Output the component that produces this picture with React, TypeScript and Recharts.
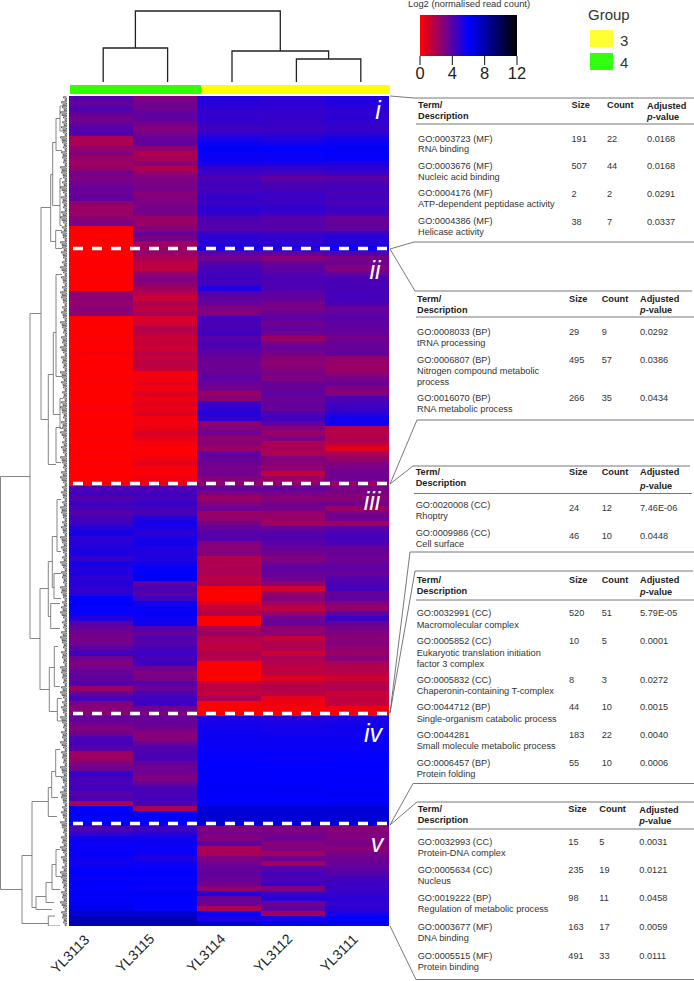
import React from 'react'
import { Area, AreaChart, Bar, BarChart, Cell, Line, LineChart, ReferenceLine, XAxis, YAxis } from 'recharts'

const samples = ['YL3113', 'YL3115', 'YL3114', 'YL3112', 'YL3111']
const groupSizes = [131, 189]
const groupColors = ['#33ff00', '#ffff00']
const scaleTicks = [0, 4, 8, 12]

// log2 values per sample, top row to bottom row (five blocks i-v)
const yl3113 = [
  4.0,3.6,4.1,3.7,3.3,3.6,4.0,4.1,2.0,1.9,2.6,2.9,2.5,2.2,2.6,3.3,3.1,3.4,3.6,3.5,3.7,2.6,2.4,2.3,2.8,3.1,0,0,0,0,0,
  0,0,0.1,0,0,0.1,0,0,2.6,2.7,2.5,2.8,2.6,0,0.1,0,0,0.1,0,0,0.2,0,0.1,0,0,0.1,0,0,0.1,0,0,0.2,0,0,0.1,0,0,0.1,0,0,0.2,0,0.1,0,0,0.1,0.2,
  4.2,4.5,4.1,4.6,4.3,4,4.4,4.6,5.2,5.6,5,5.1,5.2,5.4,4.8,5.5,5.2,5.3,5,5.1,4.9,5,6,6.2,5.9,5.8,5.2,4,3.6,3.3,3.2,3.4,3.9,4.6,3.4,2.9,3.4,3.6,3.8,4,2.4,3.6,4.3,3,2.8,2.8,
  3.6,3.4,3,3.3,4.2,4.4,3.9,2.3,2.4,3,3.4,4.8,4.4,4.2,4.5,3.9,4.2,2,6,6.2,6.1,6,
  4.2,4.8,5.6,5.8,5.8,5.9,5.7,5.6,5.9,6,5.8,6,5.9,6.2,6.1,6.3,6.5,7,7.6,8,
]
const yl3115 = [
  3,3.4,3.4,3.8,3.7,3.3,3,3.2,3.6,3.7,2.6,1.9,2.1,2.8,1.9,2.6,3,3.1,3.2,2.8,3,3.1,3.2,3.2,2.4,2.5,2.8,3.6,3.2,2.2,2.4,
  2.4,2,1.6,1.5,2.5,3,2.8,2.2,1.7,1.3,1.9,1.5,2,1,1,1.8,1.6,1.3,1.4,1.2,1.6,1.4,1.6,1.4,0.2,0.3,0.7,0.3,0.9,0.4,0.8,0.5,0.9,0.3,0.3,0.5,0.9,0.6,0.2,0.1,0.1,0.3,0.7,0.2,0.1,0.4,0.6,
  4.2,4.5,4.4,4.7,4.4,4.3,5.2,5.6,5.3,5,5.4,5.6,5.3,5.2,5.3,5.5,5.9,6.2,6.2,3.8,4.2,4,4.5,5.6,5.8,5.9,5.7,5.6,4,3.7,4.1,3.9,4.4,4.6,4.4,4.6,3.4,3,3.2,3.9,3.6,4.2,4.5,4.6,3.4,3,
  3.6,3.6,3.3,2.8,2.8,3.6,4.1,4.2,4.2,3.6,3.4,3.4,3,3.6,4.3,4.2,4.4,4.2,2,6,6.1,6,
  4.6,5,5.6,5.8,5.8,5.7,5.3,5.8,5.9,6,5.9,6,5.8,6.2,6,6,5.9,7,7.6,8,
]
const yl3114 = [
  5.2,5.1,4.9,4.8,4.9,4.7,4.5,4.8,5.4,5.8,6.2,5.8,5.7,5.5,4.8,4.6,4.2,4.5,4.4,4.6,4.7,4.6,5,4.8,4.2,4.1,4,4.7,5,5.1,5.3,
  3.8,3.4,4,4.3,4.4,4.5,4.4,5.3,4,3.8,3.6,3,3,4.4,4.2,4.3,4.5,4,4.3,4,3.8,3.6,3.4,3.5,3.6,3.8,3.5,3.3,2.4,2.8,4.6,4.9,5.1,4.9,2.6,3,3.4,2.6,2.9,2.4,3.8,3.6,3.4,3.2,3.4,2.9,2.6,
  3.6,3,2.4,3,3.4,2.4,2.6,3.2,3.7,4,4,3,2.8,3,1.8,2,1.9,2,1.7,1.8,0,0,0,0.8,1.4,1.8,0,0,2,2.4,1.8,1.6,1.5,1.9,1.7,0,0.1,0,0,1.4,1.6,1.3,2,0,0,0,
  5.4,5.5,5.6,5.7,5.7,5.8,5.8,5.9,5.9,6,6,6.1,6,6.1,6.2,6.1,6,6.1,6.9,7,7,7.1,
  3,3.2,3,3.8,2,2.1,3,3.4,3.6,3.8,3.6,3.4,2.6,5.2,3.6,3.4,2,5.8,5.4,7,
]
const yl3112 = [
  5,5,4.9,4.8,4.7,4.7,4.6,4.8,5.2,5.6,6,5.8,5.8,5.4,4.8,4.4,3.8,4.2,4.3,4.6,4.6,4.6,4.9,4.6,4,4,4,4.6,4.9,5,5.2,
  3.6,2.8,3.6,3.8,4,4.2,4.2,4.1,3.8,3.7,3.2,3.2,3.6,3.8,3.3,3.7,3.4,2.4,3.2,3.5,3.2,2.8,2.6,2.9,3.2,3,3.6,3.6,3.8,3.5,3.7,3.6,4.2,4.4,3.8,2.8,2.4,3,1.9,2.1,1.9,2.9,2.8,2.6,1.4,2.4,2.6,
  3.6,3.2,2.8,3.3,3.2,2.5,2.4,2.2,3.6,4,4.1,3.9,3.6,3.3,3,3.4,3.8,3.6,3.4,2.6,1,2.4,2.8,2.2,1.6,2.4,3.4,3.6,2.6,2.7,1.4,2,1.8,1.2,2,1.7,1.5,1.6,0.8,1.6,1.8,1.5,0.6,0.3,0.2,0.1,
  5.2,5.4,5.5,5.6,5.7,5.8,5.8,5.9,5.8,6,6,6,6,6.1,6.2,6.1,6,6.1,6.9,7,7,7.1,
  3,3.2,3.4,2.8,3,2.2,3.4,2.2,4,4.4,4.2,4.6,3,4.6,5,3.4,3.8,2.2,5.4,6.4,
]
const yl3111 = [
  5.2,5.3,5,4.9,5,4.8,4.7,5,5.5,5.8,6.2,5.9,5.9,5.2,5,4.5,3.9,4.3,4.4,4.3,4.4,4.2,4.6,4.4,3.6,3.7,3.7,4.8,5.1,5.3,5.6,
  4,3.2,3.4,3,3.6,4.2,4.3,4.3,4.4,4.4,4.2,3.6,3.8,3.9,3.8,3.7,3.6,3.3,3.6,3.6,3.7,2.6,2.4,2.4,2.6,3.2,3.6,3,2.8,4.2,4.4,4.6,5.1,5.6,5.6,1.8,1.7,1.9,1.5,0.7,2,2.4,3,3.2,3.4,3.4,2.2,
  3.2,3,2.8,3.4,2.4,3.2,3.4,2.2,4,4.2,4.4,4.2,3.6,3.5,3.4,3.6,3.8,3.6,4,4.2,4.4,3.6,3.8,2.8,2.6,3.8,4.6,3.6,3.2,3,2.8,3,2.6,2.4,2.8,2,1.8,1.6,1.2,1.8,1.8,1.2,1.5,1.4,0.4,0.2,
  5.4,5.5,5.6,5.6,5.7,5.8,5.8,5.9,5.9,6,6,6,6.1,6,6.1,6.2,6.1,6.2,6.9,7,7,7.1,
  2.8,3,3,3.2,2.8,3.2,3.4,3.6,3.8,4,4.4,4.6,4.6,4.8,5,4.8,5,5.4,6,6.2,
]
const sampleValues = [yl3113, yl3115, yl3114, yl3112, yl3111]
const blockEnds = [30, 77, 123, 145]

// sample dendrogram: [left, right, height, left child height, right child height]
const sampleMerges = [
  [0.5, 1.5, 34, 0, 0],
  [3.5, 4.5, 23, 0, 0],
  [2.5, 4, 31, 0, 23],
  [1, 3.25, 71, 34, 31],
]

// row dendrogram: [distance, top row, bottom row, top child distance, bottom child distance]
const rowMerges = [
  [0.5, 75.6, 158.2, 30, 22], [30, 43, 108, 41, 40], [41, 21.8, 64.2, 50.7, 48.3],
  [50.7, 15.2, 28.6, 52.7, 55.7], [52.7, 8.8, 21.4, 56, 60], [56, 4, 10.4, 60, 62],
  [60, 1.5, 6.5, 63, 63], [60, 16, 25.4, 62, 62], [55.7, 26.4, 30, 62, 62],
  [56, 35.2, 55.6, 62, 62], [48.3, 55.2, 73.2, 53.3, 56], [53.3, 46.8, 63.2, 56, 60],
  [56, 65.8, 72.8, 61, 61], [60, 60, 66, 63, 63], [40, 98, 118.2, 48.3, 49.3],
  [48.3, 92.6, 103.6, 52.3, 50.7], [52.3, 87.6, 97.8, 57, 54], [57, 80.2, 90.6, 61, 61],
  [54, 95, 100, 61, 61], [50.7, 101, 106, 60, 60], [49.3, 113.8, 122.6, 54.3, 57.3],
  [54.3, 109.6, 117.6, 58, 60], [57.3, 120, 124.5, 62, 62], [22, 151.4, 165, 32, 48.3],
  [32, 140.6, 161.8, 48.3, 36], [48.3, 137.8, 143.6, 51.7, 57], [51.7, 134.6, 139.8, 55.7, 58],
  [55.7, 130.2, 135.6, 60, 61], [36, 159.6, 162.2, 46, 52], [46, 156.8, 160.8, 52, 54],
  [52, 153.2, 158.2, 56, 60], [56, 150.2, 155.6, 60, 61], [48.3, 163.5, 165.5, 55, 60],
]
const leafDepth = [
  3,5,4,6,3,4,5,3,6,4,3,5,4,3,6,5,3,4,6,3,5,4,3,5,6,3,4,5,3,6,4,5,3,4,6,3,5,3,4,6,
  5,3,4,5,3,6,4,3,5,4,6,3,5,4,3,6,4,5,3,4,3,5,6,4,3,5,4,6,3,4,5,3,6,4,3,5,6,3,4,5,
  3,4,6,5,3,4,5,3,6,4,5,3,4,6,3,5,4,3,6,5,3,4,5,6,3,4,3,5,6,4,3,5,4,3,6,5,4,3,5,6,
  3,4,5,3,6,4,3,5,4,6,3,5,4,3,6,4,5,3,4,6,5,3,4,5,3,6,4,3,5,4,6,3,5,3,4,6,5,4,3,5,
  4,6,3,5,4,3,
]

const mfTerms = [
  ['GO:0003723 (MF)', ['RNA binding'], '191', '22', '0.0168'],
  ['GO:0003676 (MF)', ['Nucleic acid binding'], '507', '44', '0.0168'],
  ['GO:0004176 (MF)', ['ATP-dependent peptidase activity'], '2', '2', '0.0291'],
  ['GO:0004386 (MF)', ['Helicase activity'], '38', '7', '0.0337'],
]
const bpTerms = [
  ['GO:0008033 (BP)', ['tRNA processing'], '29', '9', '0.0292'],
  ['GO:0006807 (BP)', ['Nitrogen compound metabolic', 'process'], '495', '57', '0.0386'],
  ['GO:0016070 (BP)', ['RNA metabolic process'], '266', '35', '0.0434'],
]
const ccTerms = [
  ['GO:0020008 (CC)', ['Rhoptry'], '24', '12', '7.46E-06'],
  ['GO:0009986 (CC)', ['Cell surface'], '46', '10', '0.0448'],
]
const mixedTerms = [
  ['GO:0032991 (CC)', ['Macromolecular complex'], '520', '51', '5.79E-05'],
  ['GO:0005852 (CC)', ['Eukaryotic translation initiation', 'factor 3 complex'], '10', '5', '0.0001'],
  ['GO:0005832 (CC)', ['Chaperonin-containing T-complex'], '8', '3', '0.0272'],
  ['GO:0044712 (BP)', ['Single-organism catabolic process'], '44', '10', '0.0015'],
  ['GO:0044281', ['Small molecule metabolic process'], '183', '22', '0.0040'],
  ['GO:0006457 (BP)', ['Protein folding'], '55', '10', '0.0006'],
]
const dnaTerms = [
  ['GO:0032993 (CC)', ['Protein-DNA complex'], '15', '5', '0.0031'],
  ['GO:0005634 (CC)', ['Nucleus'], '235', '19', '0.0121'],
  ['GO:0019222 (BP)', ['Regulation of metabolic process'], '98', '11', '0.0458'],
  ['GO:0003677 (MF)', ['DNA binding'], '163', '17', '0.0059'],
  ['GO:0005515 (MF)', ['Protein binding'], '491', '33', '0.0111'],
]

const FONT = '"Liberation Sans", Arial, sans-serif'

// page layout, in pixels
const tableLayouts = [
  { terms: mfTerms, cols: [418, 571.5, 607, 647], head: 106, head2: 116.5, p: 118, first: [139.5, 166.8, 194.4, 222.3], line: 10.8, dy: 0.4 },
  { terms: bpTerms, cols: [417, 569, 601.7, 640], head: 299.5, head2: 310.7, p: 311.3, first: [333, 361, 399.3], line: 11, dy: 0 },
  { terms: ccTerms, cols: [415.7, 569, 601.7, 640], head: 472.7, head2: 484, p: 487, first: [506.3, 534], line: 11, dy: 2.5 },
  { terms: mixedTerms, cols: [416.7, 569, 601.7, 640], head: 580.7, head2: 591.7, p: 593, first: [614.3, 642.3, 680.7, 708.3, 736, 764], line: 11.2, dy: 0 },
  { terms: dnaTerms, cols: [417.7, 568.3, 599.3, 639.3], head: 810, head2: 820.7, p: 822.3, first: [843.3, 871.3, 899.3, 928.3, 956.7], line: 11, dy: 0 },
]
const ruleSegments = [
  [414, 98, 694, 98], [416, 124, 694, 124], [414, 242, 694, 242],
  [415, 291, 692, 291], [416, 317, 694, 317], [417, 420, 694, 420],
  [413, 466, 690, 466], [414, 493.5, 692, 493.5], [410, 552, 694, 552],
  [415, 571, 693, 571], [416, 600, 694, 600], [413, 783.5, 694, 783.5],
  [417, 802, 694, 802], [417, 829, 694, 829], [416, 979.5, 694, 979.5],
]
const leaderSegments = [
  [390, 96, 414, 98], [390, 249, 414, 242], [390, 249, 415, 291], [390, 484, 417, 420],
  [390, 484, 413, 466], [390, 713, 410, 552], [390, 713, 415, 571], [390, 825, 413, 783.5],
  [390, 825, 417, 802], [390, 926, 416, 979.5],
]
const blockLabels = [
  ['i', 378, 110], ['ii', 375, 270], ['iii', 372, 501], ['iv', 373, 733], ['v', 377, 843],
]
const sampleLabelCentres = [[70, 954], [135, 953], [206, 953], [272.5, 953], [339, 953]]

const valueColor = (v: number) => {
  const c = (n: number) => Math.round(n)
  if (v <= 6) return `rgb(${c(255 * (1 - v / 6))},0,${c((255 * v) / 6)})`
  return `rgb(0,0,${c((255 * (12 - v)) / 6)})`
}

const heatRows = yl3113.map((_, row) => ({ row, unit0: 1, unit1: 1, unit2: 1, unit3: 1, unit4: 1 }))

const mergePoints = (merges: number[][]) =>
  merges.flatMap(([d, a, b, da, db]) => [
    { x: da, y: a }, { x: d, y: a }, { x: d, y: b }, { x: db, y: b }, { x: db, y: null },
  ])
const sampleTree = sampleMerges.flatMap(([l, r, h, hl, hr]) => [
  { x: l, y: hl }, { x: l, y: h }, { x: r, y: h }, { x: r, y: hr }, { x: r, y: null },
])
// two brackets per row, the second one a little shallower, so the leaves read as a dense dark band
const leafComb = leafDepth.flatMap((depth, row) => [
  { x: 66.5, y: row - 0.35 }, { x: 66.5 - depth, y: row - 0.35 }, { x: 66.5 - depth, y: row - 0.1 }, { x: 66.5, y: row - 0.1 },
  { x: 66.5, y: row + 0.15 }, { x: 68 - depth, y: row + 0.15 }, { x: 68 - depth, y: row + 0.4 }, { x: 66.5, y: row + 0.4 },
])
const segmentPoints = (segments: number[][]) =>
  segments.flatMap(([x1, y1, x2, y2]) => [{ x: x1, y: y1 }, { x: x2, y: y2 }, { x: x2, y: null }])

const box = (left: number, top: number): React.CSSProperties => ({ position: 'absolute', left, top })

function Txt({ x, y, children, bold, size = 9.2 }: any) {
  return (
    <div
      style={{
        position: 'absolute', left: x, top: y, transform: 'translateY(-50%)', whiteSpace: 'nowrap',
        fontFamily: FONT, fontSize: size, fontWeight: bold ? 700 : 400, color: bold ? '#222' : '#333', lineHeight: 1,
      }}
    >
      {children}
    </div>
  )
}

function TermTable({ t }: { t: (typeof tableLayouts)[number] }) {
  const [cTerm, cSize, cCount, cP] = t.cols
  return (
    <>
      <Txt x={cTerm} y={t.head} bold>Term/</Txt>
      <Txt x={cTerm} y={t.head2} bold>Description</Txt>
      <Txt x={cSize} y={t.head} bold>Size</Txt>
      <Txt x={cCount} y={t.head} bold>Count</Txt>
      <Txt x={cP} y={t.head + 0.5} bold>Adjusted</Txt>
      <Txt x={cP} y={t.p} bold><i>p</i>-value</Txt>
      {t.terms.map((row: any, i: number) => (
        <React.Fragment key={row[0]}>
          <Txt x={cTerm} y={t.first[i]}>{row[0]}</Txt>
          {row[1].map((d: string, j: number) => (
            <Txt key={d} x={cTerm} y={t.first[i] + t.line * (j + 1)}>{d}</Txt>
          ))}
          <Txt x={cSize} y={t.first[i] + t.dy}>{row[2]}</Txt>
          <Txt x={cCount} y={t.first[i] + t.dy}>{row[3]}</Txt>
          <Txt x={cP} y={t.first[i] + t.dy}>{row[4]}</Txt>
        </React.Fragment>
      ))}
    </>
  )
}

export default function App() {
  return (
    <div style={{ position: 'absolute', left: 0, top: 0, width: 694, height: 981, overflow: 'hidden', background: '#fff' }}>
      {/* callouts and table rules */}
      <div style={box(0, 0)}>
        <LineChart width={694} height={981} margin={{ top: 0, right: 0, bottom: 0, left: 0 }}>
          <XAxis type="number" dataKey="x" domain={[0, 694]} hide />
          <YAxis type="number" domain={[0, 981]} reversed hide />
          <Line data={segmentPoints(ruleSegments)} dataKey="y" stroke="#777" strokeWidth={1} dot={false} activeDot={false} isAnimationActive={false} />
          <Line data={segmentPoints(leaderSegments)} dataKey="y" stroke="#555" strokeWidth={0.8} dot={false} activeDot={false} isAnimationActive={false} />
        </LineChart>
      </div>

      {/* sample dendrogram */}
      <div style={box(71, 6)}>
        <LineChart width={322} height={81} margin={{ top: 5, right: 0, bottom: 5, left: 0 }}>
          <XAxis type="number" dataKey="x" domain={[0, 5]} hide />
          <YAxis type="number" domain={[0, 71]} hide />
          <Line data={sampleTree} dataKey="y" stroke="#222" strokeWidth={1.3} dot={false} activeDot={false} isAnimationActive={false} />
        </LineChart>
      </div>

      {/* group bar */}
      <div style={box(70, 85)}>
        <BarChart width={320} height={9} layout="vertical" data={[{ g: 'group', green: groupSizes[0], yellow: groupSizes[1] }]} margin={{ top: 0, right: 0, bottom: 0, left: 0 }} barCategoryGap={0}>
          <XAxis type="number" domain={[0, 320]} hide />
          <YAxis type="category" dataKey="g" hide />
          <Bar dataKey="green" stackId="g" fill={groupColors[0]} isAnimationActive={false} />
          <Bar dataKey="yellow" stackId="g" fill={groupColors[1]} isAnimationActive={false} />
        </BarChart>
      </div>

      {/* row dendrogram */}
      <div style={box(0, 96)}>
        <LineChart width={67} height={830} margin={{ top: 0, right: 0, bottom: 0, left: 0 }}>
          <XAxis type="number" dataKey="x" domain={[0, 67]} hide />
          <YAxis type="number" domain={[-0.5, 165.5]} reversed hide />
          <Line data={mergePoints(rowMerges)} dataKey="y" stroke="#777" strokeWidth={0.9} dot={false} activeDot={false} isAnimationActive={false} />
          <Line data={leafComb} dataKey="y" stroke="#333" strokeWidth={0.7} dot={false} activeDot={false} isAnimationActive={false} />
        </LineChart>
      </div>

      {/* heatmap */}
      <div style={box(69, 96)}>
        <BarChart width={320} height={830} layout="vertical" data={heatRows} margin={{ top: 0, right: 0, bottom: 0, left: 0 }} barCategoryGap={0} barGap={0}>
          <XAxis type="number" domain={[0, 5]} hide />
          <YAxis type="category" dataKey="row" hide />
          {sampleValues.map((values, col) => (
            <Bar key={samples[col]} dataKey={`unit${col}`} stackId="heat" isAnimationActive={false}>
              {values.map((v, row) => (
                <Cell key={row} fill={valueColor(v)} />
              ))}
            </Bar>
          ))}
          {blockEnds.map((row) => (
            <ReferenceLine key={row} y={row} stroke="#fff" strokeWidth={3.5} strokeDasharray="10 9" strokeDashoffset={-4} />
          ))}
        </BarChart>
      </div>

      {blockLabels.map(([label, x, y]) => (
        <div
          key={label as string}
          style={{
            position: 'absolute', left: x as number, top: y as number, transform: 'translate(-50%,-50%)',
            fontFamily: FONT, fontStyle: 'italic', fontSize: 25, color: '#fff', lineHeight: 1,
          }}
        >
          {label}
        </div>
      ))}

      {samples.map((name, i) => (
        <div
          key={name}
          style={{
            position: 'absolute', left: sampleLabelCentres[i][0], top: sampleLabelCentres[i][1],
            transform: 'translate(-50%,-50%) rotate(-45deg)', fontFamily: FONT, fontSize: 14, color: '#222', lineHeight: 1, whiteSpace: 'nowrap',
          }}
        >
          {name}
        </div>
      ))}

      {/* colour scale */}
      <Txt x={408} y={5.3} size={9.35}>Log2 (normalised read count)</Txt>
      <div style={box(410, 15)}>
        <AreaChart width={120} height={70} data={[{ x: 0, v: 1 }, { x: 12, v: 1 }]} margin={{ top: 0, right: 13, bottom: 0, left: 10 }}>
          <defs>
            <linearGradient id="log2scale" x1="0" y1="0" x2="1" y2="0">
              <stop offset="0" stopColor="#ff0000" />
              <stop offset="0.5" stopColor="#0000ff" />
              <stop offset="1" stopColor="#000000" />
            </linearGradient>
          </defs>
          <XAxis
            type="number"
            dataKey="x"
            domain={[0, 12]}
            ticks={scaleTicks}
            height={29}
            tickSize={9}
            tickMargin={2}
            axisLine={false}
            stroke="#111"
            tick={{ fontSize: 16.5, fontFamily: FONT, fill: '#222' }}
            interval={0}
          />
          <YAxis type="number" domain={[0, 1]} hide />
          <Area dataKey="v" stroke="none" fill="url(#log2scale)" fillOpacity={1} activeDot={false} isAnimationActive={false} />
        </AreaChart>
      </div>

      {/* group legend */}
      <Txt x={588} y={13.5} size={15}>Group</Txt>
      <div style={{ ...box(590, 30), width: 23, height: 17, background: '#ffff33' }} />
      <div style={{ ...box(590, 52.5), width: 23, height: 17, background: '#33ff11' }} />
      <Txt x={620} y={39.5} size={15}>3</Txt>
      <Txt x={620} y={62} size={15}>4</Txt>

      {tableLayouts.map((t) => (
        <TermTable key={t.head} t={t} />
      ))}
    </div>
  )
}
